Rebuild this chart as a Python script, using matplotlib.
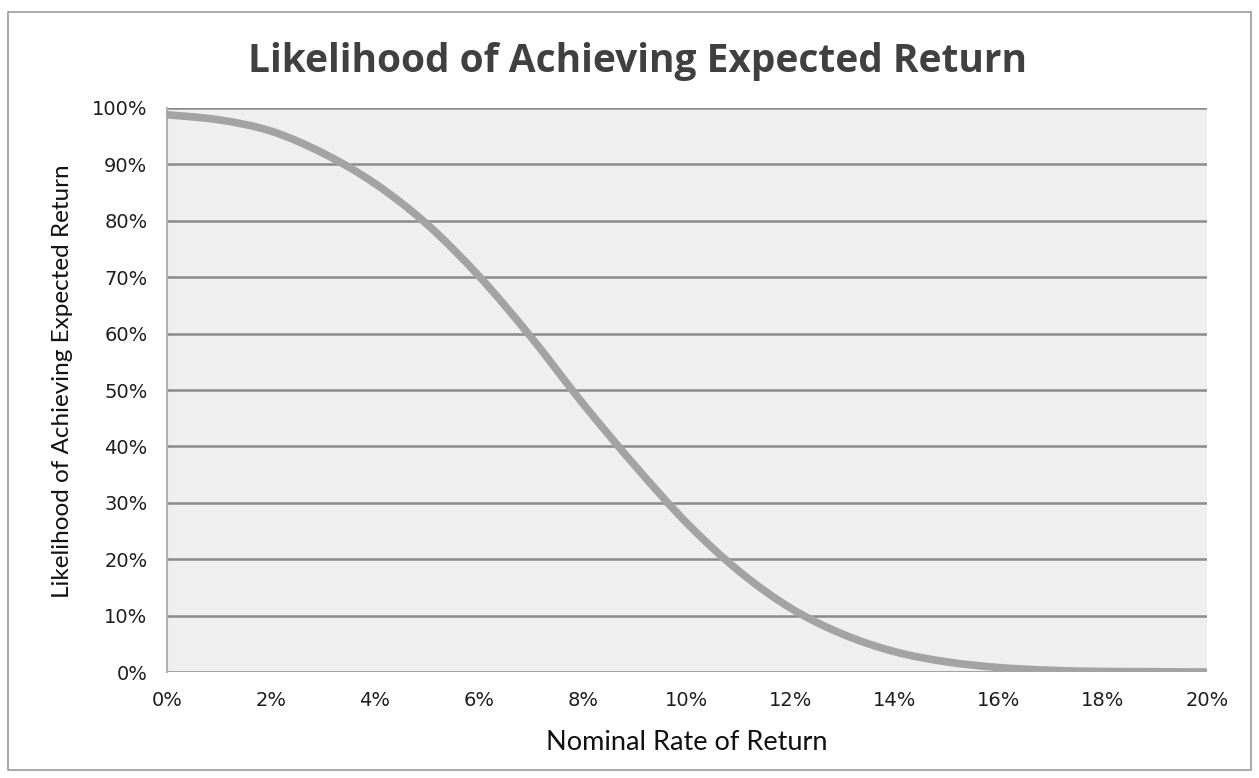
import matplotlib
matplotlib.use("Agg")
import matplotlib.pyplot as plt
from matplotlib.patches import Rectangle, PathPatch
from matplotlib.path import Path
from matplotlib.ticker import FuncFormatter

# Nominal rate of return (%) and likelihood of achieving it (%)
rates = [0, 1, 2, 3, 4, 5, 6, 7, 8, 9, 10, 11, 12, 13, 14, 15, 16, 17, 18, 19, 20]
likelihood = [98.8, 97.9, 95.9, 92.0, 86.6, 79.4, 70.2, 59.4, 47.6, 36.6, 26.4,
              17.9, 11.3, 6.7, 3.6, 1.8, 0.8, 0.3, 0.1, 0.05, 0.0]

x_ticks = [0, 2, 4, 6, 8, 10, 12, 14, 16, 18, 20]
y_ticks = [0, 10, 20, 30, 40, 50, 60, 70, 80, 90, 100]

title = "Likelihood of Achieving Expected Return"
x_label = "Nominal Rate of Return"
y_label = "Likelihood of Achieving Expected Return"


def smooth_path(xs, ys):
    """Catmull-Rom style cubic Bezier through every data point (smoothed line)."""
    pts = list(zip(xs, ys))
    verts = [pts[0]]
    codes = [Path.MOVETO]
    n = len(pts)
    for i in range(n - 1):
        p0 = pts[max(i - 1, 0)]
        p1 = pts[i]
        p2 = pts[i + 1]
        p3 = pts[min(i + 2, n - 1)]
        c1 = (p1[0] + (p2[0] - p0[0]) / 6, p1[1] + (p2[1] - p0[1]) / 6)
        c2 = (p2[0] - (p3[0] - p1[0]) / 6, p2[1] - (p3[1] - p1[1]) / 6)
        verts += [c1, c2, p2]
        codes += [Path.CURVE4] * 3
    return Path(verts, codes)


fig = plt.figure(figsize=(12.59, 7.78), dpi=100)
fig.patch.set_facecolor("white")

# outer chart frame
fig.add_artist(Rectangle((0.006, 0.01), 0.988, 0.975, transform=fig.transFigure,
                         fill=False, edgecolor="#9a9a9a", linewidth=1.2))

ax = fig.add_axes([0.1326, 0.1362, 0.826, 0.725])
ax.set_facecolor("#efefef")

for v in y_ticks:
    ax.axhline(v, color="#8a8a8a", linewidth=1.8, zorder=1)

curve = PathPatch(smooth_path(rates, likelihood), transform=ax.transData,
                  fill=False, edgecolor="#a3a3a3", linewidth=5.5,
                  capstyle="round", joinstyle="round", zorder=3)
ax.add_patch(curve)

ax.set_xlim(0, 20)
ax.set_ylim(0, 100)
ax.set_xticks(x_ticks)
ax.set_yticks(y_ticks)
ax.xaxis.set_major_formatter(FuncFormatter(lambda v, p: f"{v:.0f}%"))
ax.yaxis.set_major_formatter(FuncFormatter(lambda v, p: f"{v:.0f}%"))
ax.tick_params(axis="both", length=0, labelsize=14, labelcolor="#1e1e1e")
for lbl in ax.get_xticklabels() + ax.get_yticklabels():
    lbl.set_family("DejaVu Sans")
ax.tick_params(axis="x", pad=14)
ax.tick_params(axis="y", pad=14)

for side in ["top", "right", "bottom"]:
    ax.spines[side].set_visible(False)
ax.spines["left"].set_color("#b0b0b0")
ax.spines["left"].set_linewidth(1.5)

fig.text(0.506, 0.921, title, ha="center", va="center", fontsize=28,
         fontweight="bold", color="#404040", family="Open Sans")
ax.set_xlabel(x_label, fontsize=19.5, color="#111111", family="Lato",
              labelpad=14)
ax.set_ylabel(y_label, fontsize=17.5, color="#111111", family="Lato")
ax.yaxis.set_label_coords(-0.09, 0.516)

fig.savefig("out.png", dpi=100, facecolor="white")
